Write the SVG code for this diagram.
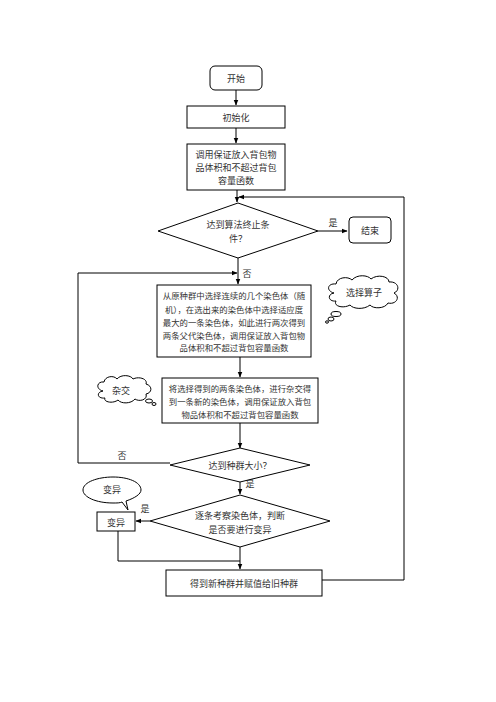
<svg xmlns="http://www.w3.org/2000/svg" width="496" height="702" viewBox="0 0 496 702">
<defs>
<marker id="ah" viewBox="0 0 10 10" refX="9" refY="5" markerWidth="6" markerHeight="6" orient="auto"><path d="M0,1 L10,5 L0,9 z" fill="#000"/></marker>
</defs>
<style>
.b{fill:#fff;stroke:#000;stroke-width:1}
.l{fill:none;stroke:#000;stroke-width:1}
.t{font-family:"Noto Sans CJK SC","Noto Sans",sans-serif;font-size:9px;fill:#333;text-anchor:middle;dominant-baseline:central}
.s{font-size:8.4px}
</style>
<rect width="496" height="702" fill="#fff"/>
<g id="connectors">
<path class="l" d="M236,90 V105" marker-end="url(#ah)"/>
<path class="l" d="M236,128 V143" marker-end="url(#ah)"/>
<path class="l" d="M237,190 V202" marker-end="url(#ah)"/>
<path class="l" d="M318,231 H347" marker-end="url(#ah)"/>
<path class="l" d="M238,258 V284" marker-end="url(#ah)"/>
<path class="l" d="M78,463 V273 H237" marker-end="url(#ah)"/>
<path class="l" d="M170,463 H78"/>
<path class="l" d="M240,357 V377" marker-end="url(#ah)"/>
<path class="l" d="M240,423 V448" marker-end="url(#ah)"/>
<path class="l" d="M240,482 V494" marker-end="url(#ah)"/>
<path class="l" d="M150,521 H136" marker-end="url(#ah)"/>
<path class="l" d="M240,547 V569" marker-end="url(#ah)"/>
<path class="l" d="M118,531 V561 H240"/>
<path class="l" d="M322,580 H404 V197 H239" marker-end="url(#ah)"/>
<text class="t" x="333" y="222">是</text>
<text class="t" x="247" y="273">否</text>
<text class="t" x="122" y="455">否</text>
<text class="t" x="250" y="483">是</text>
<text class="t" x="145" y="508">是</text>
</g>
<g id="start"><rect class="b" x="210" y="66" width="52" height="24" rx="5"/><text class="t" x="236" y="78">开始</text></g>
<g id="init"><rect class="b" x="187" y="106" width="98" height="22"/><text class="t" x="236" y="117">初始化</text></g>
<g id="call"><rect class="b" x="187" y="144" width="98" height="46"/>
<text class="t" x="236" y="154">调用保证放入背包物</text><text class="t" x="236" y="167">品体积和不超过背包</text><text class="t" x="236" y="180">容量函数</text></g>
<g id="cond1"><polygon class="b" points="238,203 318,231 238,258 158,231"/>
<text class="t" x="238" y="224">达到算法终止条</text><text class="t" x="238" y="238">件？</text></g>
<g id="end"><rect class="b" x="349" y="217" width="42" height="26" rx="4"/><text class="t" x="370" y="230">结束</text></g>
<g id="select"><rect class="b" x="157" y="285" width="154" height="72"/>
<text class="t s" x="234" y="295">从原种群中选择连续的几个染色体（随</text>
<text class="t s" x="234" y="309">机），在选出来的染色体中选择适应度</text>
<text class="t s" x="234" y="322">最大的一条染色体，如此进行两次得到</text>
<text class="t s" x="234" y="335">两条父代染色体，调用保证放入背包物</text>
<text class="t s" x="234" y="347">品体积和不超过背包容量函数</text></g>
<g id="cloud-select">
<path class="b" d="M334,293 C326,291 327,283 336,284 C337,277 348,276 352,280 C357,274 368,275 371,279 C377,274 389,276 389,282 C398,281 401,290 394,293 C401,297 396,305 388,303 C385,309 373,309 370,305 C364,310 353,309 350,305 C343,309 333,306 336,301 C328,302 327,294 334,293 Z"/>
<ellipse class="b" cx="336" cy="314" rx="5" ry="2.5"/>
<ellipse class="b" cx="331" cy="319" rx="3" ry="2"/>
<ellipse class="b" cx="327" cy="322" rx="1.5" ry="1.2"/>
<text class="t" x="364" y="292">选择算子</text></g>
<g id="cross"><rect class="b" x="162" y="378" width="156" height="45"/>
<text class="t s" x="240" y="388">将选择得到的两条染色体，进行杂交得</text>
<text class="t s" x="240" y="401">到一条新的染色体，调用保证放入背包</text>
<text class="t s" x="240" y="414">物品体积和不超过背包容量函数</text></g>
<g id="cloud-cross">
<path class="b" d="M103,391 C95,389 97,381 104,382 C105,376 114,375 117,379 C121,374 131,375 133,379 C139,376 148,379 146,384 C153,386 152,393 146,394 C148,400 139,402 135,399 C131,404 121,404 118,400 C113,404 103,402 105,398 C97,399 96,392 103,391 Z"/>
<ellipse class="b" cx="149" cy="401" rx="3.5" ry="2"/>
<ellipse class="b" cx="154" cy="404" rx="2" ry="1.5"/>
<text class="t" x="121" y="390">杂交</text></g>
<g id="cond2"><polygon class="b" points="240,448 310,465 240,482 170,465"/><text class="t" x="240" y="465">达到种群大小？</text></g>
<g id="cond3"><polygon class="b" points="240,495 330,521 240,547 150,521"/>
<text class="t" x="240" y="515">逐条考察染色体，判断</text><text class="t" x="240" y="529">是否要进行变异</text></g>
<g id="mutate"><rect class="b" x="97" y="512" width="38" height="19"/><text class="t" x="116" y="522">变异</text></g>
<g id="bubble-mutate">
<path class="b" d="M113,477 C98,477 83,482 83,490 C83,497 96,503 113,503 C117,503 120,503 122,502 L128,510 L126,501 C135,498 141,494 141,490 C141,482 128,477 113,477 Z"/>
<text class="t" x="112" y="489">变异</text></g>
<g id="final"><rect class="b" x="166" y="570" width="156" height="26"/><text class="t" x="244" y="583">得到新种群并赋值给旧种群</text></g>
</svg>
